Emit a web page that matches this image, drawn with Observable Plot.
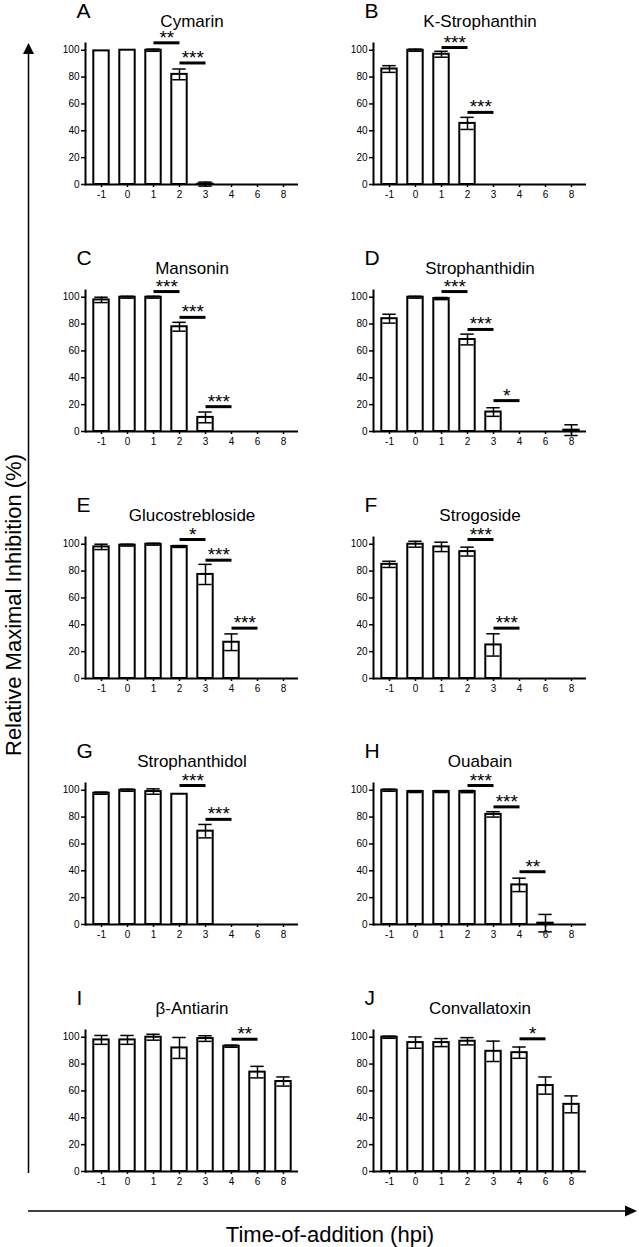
<!DOCTYPE html>
<html><head><meta charset="utf-8">
<script src="https://cdn.jsdelivr.net/npm/d3@7"></script>
<script src="https://cdn.jsdelivr.net/npm/@observablehq/plot@0.6"></script>
<style>
body{margin:0;background:#fff;}
#root{position:relative;width:639px;height:1247px;overflow:hidden;font-family:"Liberation Sans",Arial,sans-serif;background:#fff;}
.panel{position:absolute;}
#deco{position:absolute;left:0;top:0;}
</style></head><body><div id="root"></div>
<script>
// ---- data ----
const times = ["-1", "0", "1", "2", "3", "4", "6", "8"];
const yTicks = [0, 20, 40, 60, 80, 100];
const letters = ["A", "B", "C", "D", "E", "F", "G", "H", "I", "J"];
const compounds = ["Cymarin", "K-Strophanthin", "Mansonin", "Strophanthidin", "Glucostrebloside",
  "Strogoside", "Strophanthidol", "Ouabain", "β-Antiarin", "Convallatoxin"];

const cymarinMean = [99.5, 100, 100, 82, 0.3, 0, 0, 0];
const cymarinErr  = [0, 0, 0.8, 4, 1.5, 0, 0, 0];
const cymarinSig  = [["1", "2", 105.5, "**"], ["2", "3", 90.5, "***"]];

const kStrophanthinMean = [86, 100, 97, 45.5, 0, 0, 0, 0];
const kStrophanthinErr  = [2.5, 0.8, 2.2, 4.5, 0, 0, 0, 0];
const kStrophanthinSig  = [["1", "2", 102, "***"], ["2", "3", 53.7, "***"]];

const mansoninMean = [98, 100, 100, 78, 10.5, 0, 0, 0];
const mansoninErr  = [2, 0.7, 0.7, 3.3, 4, 0, 0, 0];
const mansoninSig  = [["1", "2", 104.2, "***"], ["2", "3", 85, "***"], ["3", "4", 18.5, "***"]];

const strophanthidinMean = [84, 100, 99, 68.5, 14.5, 0, 0, 1];
const strophanthidinErr  = [3.3, 0.7, 0.8, 4, 3.2, 0, 0, 4];
const strophanthidinSig  = [["1", "2", 104.2, "***"], ["2", "3", 76, "***"], ["3", "4", 23, "*"]];

const glucostreblosideMean = [98, 99.3, 100, 98.3, 77.5, 27, 0, 0];
const glucostreblosideErr  = [2, 0.7, 0.7, 0.7, 7.5, 6.2, 0, 0];
const glucostreblosideSig  = [["2", "3", 103.5, "*"], ["3", "4", 88.1, "***"], ["4", "6", 37.5, "***"]];

const strogosideMean = [85, 100, 98, 94.5, 25, 0, 0, 0];
const strogosideErr  = [2.3, 2.2, 3.5, 3.3, 8.3, 0, 0, 0];
const strogosideSig  = [["2", "3", 103.5, "***"], ["3", "4", 37.5, "***"]];

const strophanthidolMean = [97.8, 100, 99, 97, 69.5, 0, 0, 0];
const strophanthidolErr  = [0.8, 0.8, 2, 0, 5, 0, 0, 0];
const strophanthidolSig  = [["2", "3", 103.5, "***"], ["3", "4", 78.3, "***"]];

const ouabainMean = [100, 99, 99, 99, 82, 29.5, 1, 0];
const ouabainErr  = [0.8, 0.7, 0.7, 0.8, 2, 5, 6.5, 0];
const ouabainSig  = [["2", "3", 103.5, "***"], ["3", "4", 87.6, "***"], ["4", "6", 39.3, "**"]];

const antiarinMean = [98, 98, 100, 92, 99, 93.3, 74, 67];
const antiarinErr  = [3.3, 3.3, 2.2, 7.8, 2.1, 0.8, 4.3, 3.4];
const antiarinSig  = [["4", "6", 98.5, "**"]];

const convallatoxinMean = [100, 96, 96, 97, 89.5, 88.5, 64, 50];
const convallatoxinErr  = [0.8, 4.2, 3, 2.7, 7.6, 4.2, 6.4, 6.3];
const convallatoxinSig  = [["4", "6", 98.8, "*"]];

const yTitle = "Relative Maximal Inhibition (%)";
const xTitle = "Time-of-addition (hpi)";

// ---- layout ----
const means = [cymarinMean, kStrophanthinMean, mansoninMean, strophanthidinMean, glucostreblosideMean,
  strogosideMean, strophanthidolMean, ouabainMean, antiarinMean, convallatoxinMean];
const errs = [cymarinErr, kStrophanthinErr, mansoninErr, strophanthidinErr, glucostreblosideErr,
  strogosideErr, strophanthidolErr, ouabainErr, antiarinErr, convallatoxinErr];
const sigs = [cymarinSig, kStrophanthinSig, mansoninSig, strophanthidinSig, glucostreblosideSig,
  strogosideSig, strophanthidolSig, ouabainSig, antiarinSig, convallatoxinSig];

const FONT = '"Liberation Sans", Arial, sans-serif';
const W = 310, ML = 85, MR = 12, MT = 43, MB = 22, H = 206;
const colLeft = [0, 288];
const rowTop = [0, 247, 494, 740, 987];
const bw = (W - ML - MR) / times.length;

const root = document.getElementById("root");

compounds.forEach((name, k) => {
  const rows = times.map((t, i) => ({t, m: means[k][i], e: errs[k][i]}));
  const withErr = rows.filter(d => d.e > 0);
  const sig = sigs[k].map(([from, to, y, label]) => ({from, to, y, label}));
  const svg = Plot.plot({
    width: W, height: H,
    marginLeft: ML, marginRight: MR, marginTop: MT, marginBottom: MB,
    style: {background: "transparent", fontFamily: FONT, fontSize: "10px", color: "#000", overflow: "visible"},
    x: {type: "band", domain: times, padding: 0, label: null},
    y: {domain: [0, 105], label: null},
    marks: [
      Plot.barY(rows, {x: "t", y: "m", fill: "white", stroke: "black", strokeWidth: 2, insetLeft: 5.3, insetRight: 5.3}),
      Plot.ruleX(withErr, {x: "t", y1: d => d.m - d.e, y2: d => d.m + d.e, stroke: "black", strokeWidth: 1.5}),
      Plot.tickY(withErr, {x: "t", y: d => d.m + d.e, stroke: "black", strokeWidth: 1.5, insetLeft: 6.3, insetRight: 6.3}),
      Plot.tickY(withErr, {x: "t", y: d => d.m - d.e, stroke: "black", strokeWidth: 1.5, insetLeft: 6.3, insetRight: 6.3}),
      Plot.link(sig, {x1: "from", x2: "to", y1: "y", y2: "y", stroke: "black", strokeWidth: 3}),
      Plot.text(sig, {x: "from", y: "y", text: "label", dx: bw / 2, dy: 1, lineAnchor: "bottom", fontSize: 19, fill: "black"}),
      Plot.ruleY([0], {stroke: "black", strokeWidth: 2}),
      Plot.frame({anchor: "left", stroke: "black", strokeWidth: 2}),
      Plot.axisY({ticks: yTicks, tickSize: 4, tickPadding: 2, strokeWidth: 1.5, label: null, fontSize: 10}),
      Plot.axisX({tickSize: 3, tickPadding: 3, strokeWidth: 1.5, label: null, fontSize: 10}),
      Plot.text([name], {frameAnchor: "top", dy: -17, lineAnchor: "bottom", fontSize: 17, fill: "black"}),
      Plot.text([letters[k]], {frameAnchor: "top-left", textAnchor: "start", dx: -9, dy: -26, lineAnchor: "bottom", fontSize: 21, fill: "black"})
    ]
  });
  const div = document.createElement("div");
  div.className = "panel";
  div.style.left = colLeft[k % 2] + "px";
  div.style.top = rowTop[Math.floor(k / 2)] + "px";
  div.appendChild(svg);
  root.appendChild(div);
});

// ---- decorative axes (arrows) and global titles ----
const deco = d3.select(root).append("svg").attr("id", "deco").attr("width", 639).attr("height", 1247)
  .style("font-family", FONT);
deco.append("line").attr("x1", 28.5).attr("x2", 28.5).attr("y1", 1173).attr("y2", 52)
  .attr("stroke", "black").attr("stroke-width", 1.5);
deco.append("path").attr("d", "M28.5,43 L23,54 L34,54 Z").attr("fill", "black");
deco.append("line").attr("x1", 28).attr("x2", 626).attr("y1", 1211).attr("y2", 1211)
  .attr("stroke", "black").attr("stroke-width", 1.5);
deco.append("path").attr("d", "M637,1211 L625,1205.5 L625,1216.5 Z").attr("fill", "black");
deco.append("text").attr("transform", "translate(21,605) rotate(-90)").attr("text-anchor", "middle")
  .attr("font-size", 22).text(yTitle);
deco.append("text").attr("x", 330).attr("y", 1242).attr("text-anchor", "middle")
  .attr("font-size", 22).text(xTitle);
</script></body></html>
